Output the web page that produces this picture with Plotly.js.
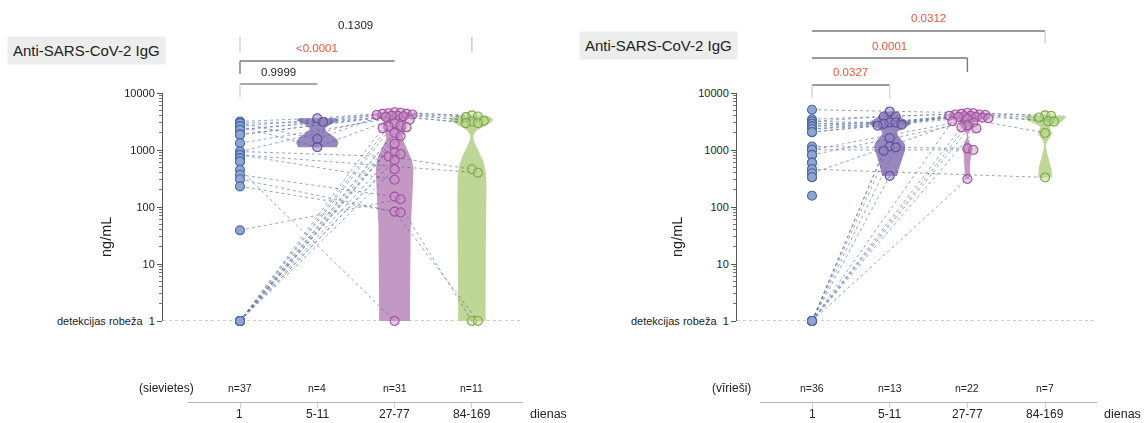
<!DOCTYPE html>
<html>
<head>
<meta charset="utf-8">
<script src="https://cdn.plot.ly/plotly-3.0.1.min.js"></script>
<style>html,body{margin:0;padding:0;background:#fff}#chart{width:1144px;height:423px}</style>
</head>
<body>
<div id="chart"></div>
<script>
// ---------------- DATA ----------------
const categories = ['1', '5-11', '27-77', '84-169'];
const unitLabel = 'dienas';
const panelTitle = 'Anti-SARS-CoV-2 IgG';
const yTitle = 'ng/mL';
const yTickValues = [1, 10, 100, 1000, 10000];
const yTickLabels = ['detekcijas robeža  1', '10', '100', '1000', '10000'];

// Women: one entry per patient, null = no measurement in that period
const womenLabel = '(sievietes)';
const womenDay1 = [3170, 2960, 2960, 2600, 2600, 2260, 2260, 1860, 1860, 1320, 940, 940, 820, 820, 720, 720, 630, 630, 450, 367, 307, 230, 39,
  1, 1, 1, 1, 1, 1, 1, 1, 1, 1, 1, 1, 1, 1];
const womenDay5 = [3600, 3100, 1560, 1120, null, null, null, null, null, null, null, null, null, null, null, null, null, null, null, null, null, null, null,
  null, null, null, null, null, null, null, null, null, null, null, null, null, null];
const womenDay27 = [4600, 4500, 4400, 4300, 4300, 4200, 4100, 4000, 4000, 3900, 3800, 770, 300, null, null, null, null, null, 1, 152, 83, 80, 137,
  3390, 2960, 2660, 2600, 2500, 2420, 1990, 1760, 1290, 900, 850, 460, 670, null];
const womenDay84 = [4050, 3870, 3780, null, 3250, 3170, 2960, 2960, null, null, null, 460, null, 400, null, null, null, null, null, 1, 1, null, null,
  null, null, null, null, null, null, null, null, null, null, null, null, null, null];
const womenPValues = ['0.9999', '<0.0001', '0.1309'];   // day 1 vs 5-11, 27-77, 84-169
const womenPSignificant = [false, true, false];

// Men
const menLabel = '(vīrieši)';
const menDay1 = [5090, 3470, 3170, 3170, 2880, 2880, 2600, 2600, 2330, 2330, 2060, 2060, 1150, 1010, 1010, 820, 820, 600, 600, 460, 460, 390, 333, 333, 158,
  1, 1, 1, 1, 1, 1, 1, 1, 1, 1, 1];
const menDay5 = [4750, 3870, 3870, 3030, 3030, 2880, 2780, null, null, 2660, null, null, null, null, null, null, null, null, null, null, null, null, null, null, null,
  1620, 1150, 1110, 970, 350, null, null, null, null, null, null];
const menDay27 = [4500, 4400, 4300, 4200, 4200, 4100, 4000, 4000, 3900, null, 3800, 3800, 1070, 1000, 3700, 3600, null, null, null, null, null, 3500, null, null, null,
  null, null, null, null, null, 3200, 3000, 2700, 2500, 2400, 310];
const menDay84 = [4050, 3990, null, 3720, null, 3200, null, 3150, null, null, null, 1990, null, null, null, null, null, null, null, 330, null, null, null, null, null,
  null, null, null, null, null, null, null, null, null, null, null];
const menPValues = ['0.0327', '0.0001', '0.0312'];
const menPSignificant = [true, true, true];

// ---------------- STYLE / LAYOUT CONSTANTS ----------------
const W = 1144, H = 423;
const yTopPx = 93, yBotPx = 321;
const pxPerDecade = (yBotPx - yTopPx) / 4;
const FONT = '"Liberation Sans", Arial, Helvetica, sans-serif';
const TXT = '#222';
const RED = '#e8553a';
const groupFill = ['#8fa5d2', 'rgba(152,134,190,0.55)', 'rgba(200,150,200,0.5)', 'rgba(190,214,150,0.5)'];
const groupLine = ['#4a68a8', '#5e4b9e', '#a24e9e', '#77ad3c'];
const violinFill = [null, '#9886be', '#c498c4', '#bed696'];
const markerDiam = 9;
const swarmMinDist = 6;
const swarmMaxPx = 21;
const violinHalfPx = 21;

const panels = [
  {label: womenLabel, series: [womenDay1, womenDay5, womenDay27, womenDay84], pv: womenPValues, sig: womenPSignificant,
   xa: 'x', ya: 'y', xb: 'x3', axisPx: 163, cat0Px: 240, stepPx: 77.3, rightPx: 560, bottom: [188, 523],
   titleC: [86.5, 51], yTitleC: [106, 237], groupC: 166, unitC: 548, limitEnd: 0.66,
   brackets: [
     {to: 1, lineY: 84, textY: 72, horiz: true, lc: '#8a8a8a', drops: [[0, 84, 97, '#d6d6d6']]},
     {to: 2, lineY: 61, textY: 48, horiz: true, lc: '#7a7a7a', drops: [[0, 61, 74, '#7a7a7a']]},
     {to: 3, lineY: 37, textY: 25, horiz: false, lc: '#ccc', drops: [[0, 37, 52, '#d0d0d0'], [3, 37, 52, '#c8c8c8']]}
   ]},
  {label: menLabel, series: [menDay1, menDay5, menDay27, menDay84], pv: menPValues, sig: menPSignificant,
   xa: 'x2', ya: 'y2', xb: 'x4', axisPx: 737, cat0Px: 812, stepPx: 77.7, rightPx: 1125, bottom: [760, 1097],
   titleC: [658, 45], yTitleC: [677, 237], groupC: 731, unitC: 1122, limitEnd: 0.66,
   brackets: [
     {to: 1, lineY: 85, textY: 72, horiz: true, lc: '#7a7a7a', drops: [[0, 85, 98, '#d6d6d6'], [1, 85, 98, '#d6d6d6']]},
     {to: 2, lineY: 58, textY: 46, horiz: true, lc: '#7a7a7a', drops: [[2, 58, 72, '#7a7a7a']]},
     {to: 3, lineY: 31, textY: 18, horiz: true, lc: '#7a7a7a', drops: [[3, 31, 43, '#d0d0d0']]}
   ]}
];

// ---------------- HELPERS ----------------
const yp = px => (H - px) / H;  // pixel row -> paper y

// beeswarm in pixel space, capped to the violin width
function swarm(vals) {
  const order = vals.map((v, i) => i).sort((a, b) => vals[b] - vals[a]);
  const placed = [];
  const off = new Array(vals.length).fill(0);
  const step = swarmMinDist / 2;
  for (const i of order) {
    const py = Math.log10(vals[i]) * pxPerDecade;
    let best = 0, bestD = -1, done = false;
    for (let k = 0; k < 200; k++) {
      const dx = (k % 2 === 1 ? 1 : -1) * Math.ceil(k / 2) * step;
      if (Math.abs(dx) > swarmMaxPx) break;
      const dmin = placed.length ? Math.min(...placed.map(p => Math.hypot(p.x - dx, p.y - py))) : Infinity;
      if (dmin >= swarmMinDist) { best = dx; done = true; break; }
      if (dmin > bestD + 0.5) { bestD = dmin; best = dx; }
    }
    placed.push({x: best, y: py});
    off[i] = best;
  }
  return off;
}

function kde(vals) {
  const n = vals.length;
  const mean = vals.reduce((a, b) => a + b, 0) / n;
  const sd = Math.sqrt(vals.reduce((a, b) => a + (b - mean) ** 2, 0) / (n - 1));
  const s = [...vals].sort((a, b) => a - b);
  const q = p => { const idx = (n - 1) * p, lo = Math.floor(idx); return s[lo] + (s[Math.min(lo + 1, n - 1)] - s[lo]) * (idx - lo); };
  let spread = Math.min(sd, (q(0.75) - q(0.25)) / 1.34);
  if (!(spread > 0)) spread = sd;
  const h = 0.9 * spread * Math.pow(n, -0.2) * 0.6;
  const lo = Math.log10(s[0]), hi = Math.log10(s[n - 1]);
  const ts = [], ds = [];
  const N = 200;
  for (let k = 0; k <= N; k++) {
    const t = Math.pow(10, lo + (hi - lo) * k / N);
    let d = 0;
    for (const v of vals) d += Math.exp(-0.5 * ((t - v) / h) ** 2);
    ts.push(t); ds.push(d);
  }
  const m = Math.max(...ds);
  return {ts, ws: ds.map(d => d / m)};
}

// ---------------- BUILD ----------------
const traces = [];
const shapes = [];
const annotations = [];
const layout = {
  width: W, height: H, margin: {l: 0, r: 0, t: 0, b: 0},
  paper_bgcolor: '#ffffff', plot_bgcolor: 'rgba(0,0,0,0)', showlegend: false,
  font: {family: FONT, color: TXT}
};

const minorVals = [];
for (let d = 0; d < 4; d++) for (let m = 2; m <= 9; m++) minorVals.push(m * Math.pow(10, d));

panels.forEach((P, pi) => {
  const step = P.stepPx;
  const toCat = px => (px - P.cat0Px) / step;
  const xr = [toCat(P.axisPx), toCat(P.rightPx)];
  const xKey = P.xa === 'x' ? 'xaxis' : 'xaxis2';
  const yKey = P.ya === 'y' ? 'yaxis' : 'yaxis2';
  const xbKey = P.xb === 'x3' ? 'xaxis3' : 'xaxis4';
  layout[xKey] = {domain: [P.axisPx / W, P.rightPx / W], range: xr, visible: false, fixedrange: true};
  layout[yKey] = {
    domain: [yp(yBotPx), yp(yTopPx)], anchor: P.xa, type: 'log', range: [0, 4],
    tickmode: 'array', tickvals: yTickValues, ticktext: yTickLabels,
    ticks: 'outside', ticklen: 5, tickwidth: 1, tickcolor: '#555',
    showline: true, linecolor: '#555', linewidth: 1, showgrid: false, zeroline: false,
    tickfont: {size: 11, color: TXT, family: FONT},
    minor: {tickmode: 'array', tickvals: minorVals, ticks: 'outside', ticklen: 3, tickcolor: '#777', showgrid: false},
    fixedrange: true
  };
  const xb = [toCat(P.bottom[0]), toCat(P.bottom[1])];
  layout[xbKey] = {
    domain: [P.bottom[0] / W, P.bottom[1] / W], range: xb, anchor: 'free', position: yp(402),
    tickmode: 'array', tickvals: categories.map((c, i) => i), ticktext: categories, showticklabels: false,
    showline: true, linecolor: '#b5b5b5', linewidth: 1, ticks: 'outside', ticklen: 5, tickcolor: '#cfcfcf',
    showgrid: false, zeroline: false, fixedrange: true
  };
  traces.push({type: 'scatter', x: [null], y: [null], xaxis: P.xb, yaxis: P.ya, hoverinfo: 'skip', showlegend: false});

  // beeswarm offsets (category units)
  const offsets = P.series.map((arr, g) => {
    const off = new Array(arr.length).fill(0);
    if (g === 0) return off;
    const idx = arr.map((v, i) => i).filter(i => arr[i] !== null);
    const o = swarm(idx.map(i => arr[i]));
    idx.forEach((i, k) => off[i] = o[k] / step);
    return off;
  });

  // violins
  P.series.forEach((arr, g) => {
    if (g === 0) return;
    const vals = arr.filter(v => v !== null);
    const {ts, ws} = kde(vals);
    const half = violinHalfPx / step;
    const xs = [], ys = [];
    ts.forEach((t, k) => { xs.push(g - ws[k] * half); ys.push(t); });
    for (let k = ts.length - 1; k >= 0; k--) { xs.push(g + ws[k] * half); ys.push(ts[k]); }
    traces.push({type: 'scatter', mode: 'lines', x: xs, y: ys, fill: 'toself', fillcolor: violinFill[g],
      line: {width: 0, color: violinFill[g]}, xaxis: P.xa, yaxis: P.ya, hoverinfo: 'skip'});
  });

  // connecting lines per patient
  const lx = [], ly = [];
  const nPat = P.series[0].length;
  for (let i = 0; i < nPat; i++) {
    const pts = [];
    P.series.forEach((arr, g) => { if (arr[i] !== null) pts.push([g + offsets[g][i], arr[i]]); });
    if (pts.length < 2) continue;
    pts.forEach(p => { lx.push(p[0]); ly.push(p[1]); });
    lx.push(null); ly.push(null);
  }
  traces.push({type: 'scatter', mode: 'lines', x: lx, y: ly, connectgaps: false,
    line: {color: '#4f6596', width: 0.7, dash: 'dot'}, opacity: 0.85, xaxis: P.xa, yaxis: P.ya, hoverinfo: 'skip', cliponaxis: false});

  // points
  P.series.forEach((arr, g) => {
    const xs = [], ys = [];
    arr.forEach((v, i) => { if (v !== null) { xs.push(g + offsets[g][i]); ys.push(v); } });
    traces.push({type: 'scatter', mode: 'markers', x: xs, y: ys, xaxis: P.xa, yaxis: P.ya, cliponaxis: false,
      marker: {size: markerDiam, color: groupFill[g], line: {color: groupLine[g], width: 1.1}}, hoverinfo: 'y'});
  });

  // detection limit line
  shapes.push({type: 'line', xref: P.xa, yref: P.ya, x0: xr[0], x1: categories.length - 1 + P.limitEnd, y0: 1, y1: 1,
    line: {color: '#9a9a9a', width: 1, dash: 'dot'}, layer: 'below'});

  // significance brackets
  P.brackets.forEach((b, bi) => {
    if (b.horiz) shapes.push({type: 'line', xref: P.xa, yref: 'paper', x0: 0, x1: b.to, y0: yp(b.lineY), y1: yp(b.lineY),
      line: {color: b.lc, width: 1.4}});
    b.drops.forEach(d => shapes.push({type: 'line', xref: P.xa, yref: 'paper', x0: d[0], x1: d[0], y0: yp(d[1]), y1: yp(d[2]),
      line: {color: d[3], width: 1.4}}));
    annotations.push({xref: P.xa, yref: 'paper', x: b.to / 2, y: yp(b.textY), text: P.pv[bi], showarrow: false,
      font: {size: 11.5, color: P.sig[bi] ? RED : TXT, family: FONT}, xanchor: 'center', yanchor: 'middle'});
  });

  // panel title box
  annotations.push({xref: 'paper', yref: 'paper', x: P.titleC[0] / W, y: yp(P.titleC[1]), text: panelTitle, showarrow: false,
    bgcolor: '#ededed', borderpad: 5, font: {size: 15, color: TXT, family: FONT}, xanchor: 'center', yanchor: 'middle'});
  // y title
  annotations.push({xref: 'paper', yref: 'paper', x: P.yTitleC[0] / W, y: yp(P.yTitleC[1]), text: yTitle, textangle: -90,
    showarrow: false, font: {size: 14.5, color: TXT, family: FONT}, xanchor: 'center', yanchor: 'middle'});
  // n labels and category labels
  P.series.forEach((arr, g) => {
    annotations.push({xref: P.xb, yref: 'paper', x: g, y: yp(388), text: 'n=' + arr.filter(v => v !== null).length,
      showarrow: false, font: {size: 10.5, color: TXT, family: FONT}, xanchor: 'center', yanchor: 'middle'});
    annotations.push({xref: P.xb, yref: 'paper', x: g, y: yp(414), text: categories[g],
      showarrow: false, font: {size: 12, color: TXT, family: FONT}, xanchor: 'center', yanchor: 'middle'});
  });
  annotations.push({xref: 'paper', yref: 'paper', x: P.groupC / W, y: yp(388), text: P.label, showarrow: false,
    font: {size: 12, color: TXT, family: FONT}, xanchor: 'center', yanchor: 'middle'});
  annotations.push({xref: 'paper', yref: 'paper', x: P.unitC / W, y: yp(414), text: unitLabel, showarrow: false,
    font: {size: 12.5, color: TXT, family: FONT}, xanchor: 'center', yanchor: 'middle'});
});

layout.shapes = shapes;
layout.annotations = annotations;
Plotly.newPlot('chart', traces, layout, {staticPlot: true, displayModeBar: false});
</script>
</body>
</html>
